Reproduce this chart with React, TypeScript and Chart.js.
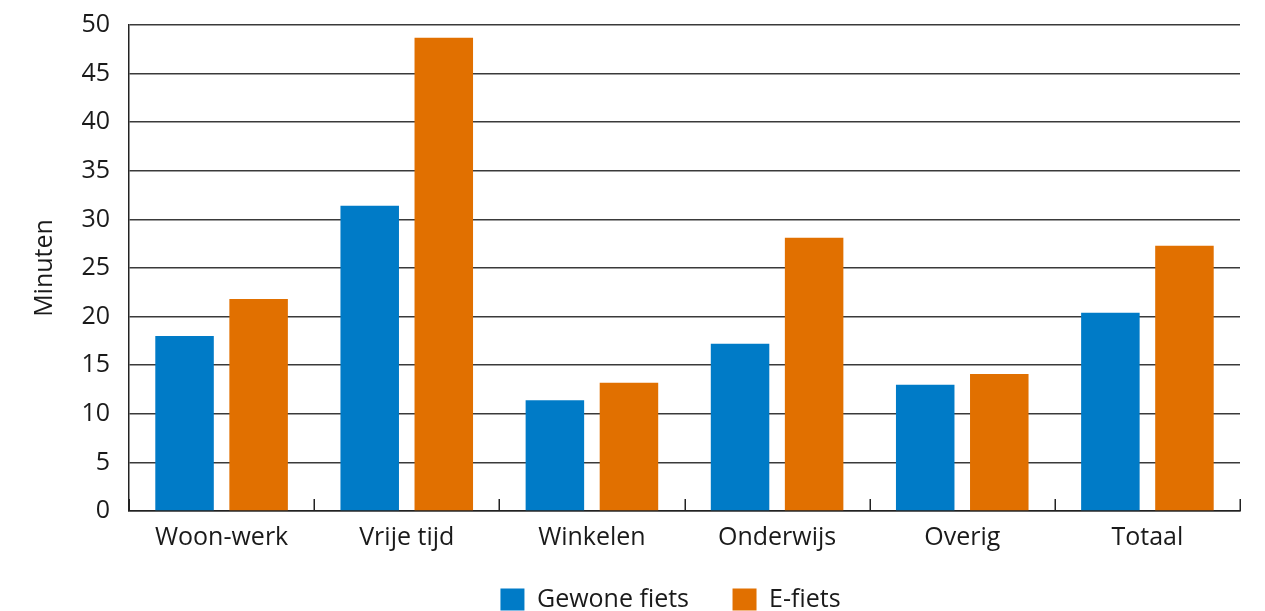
import React, { useEffect, useRef } from "react";
import { Chart, registerables } from "chart.js";

Chart.register(...registerables);

const categories = ["Woon-werk", "Vrije tijd", "Winkelen", "Onderwijs", "Overig", "Totaal"];
const seriesNames = ["Gewone fiets", "E-fiets"];
const gewoneFiets = [18.0, 31.4, 11.4, 17.2, 13.0, 20.4];
const eFiets = [21.8, 48.7, 13.2, 28.1, 14.1, 27.3];
const axisTitle = "Minuten";

const BLUE = "#007BC7";
const ORANGE = "#E17000";
const FONT = "'Open Sans', sans-serif";

// Short upward tick marks on the category axis, at each category boundary.
const categoryBoundaryTicks = {
  id: "categoryBoundaryTicks",
  afterDraw(chart: any) {
    const x = chart.scales.x;
    const { ctx, chartArea } = chart;
    const n = x.ticks.length;
    const step = (x.right - x.left) / n;
    ctx.save();
    ctx.strokeStyle = "#222";
    ctx.lineWidth = 1.5;
    for (let i = 0; i <= n; i++) {
      const px = Math.round(x.left + i * step) + 0.25;
      ctx.beginPath();
      ctx.moveTo(px, chartArea.bottom);
      ctx.lineTo(px, chartArea.bottom - 12);
      ctx.stroke();
    }
    ctx.restore();
  },
};

// Let category label descenders overhang the axis band, and nudge the legend row left.
const layoutTweaks = {
  id: "layoutTweaks",
  afterLayout(chart: any) {
    const x = chart.scales.x;
    x.bottom = x.top + 48;
    const legend = chart.legend;
    if (legend) {
      legend.left -= 14;
      legend.right -= 14;
    }
  },
};

export default function App() {
  const canvasRef = useRef<HTMLCanvasElement | null>(null);

  useEffect(() => {
    if (!canvasRef.current) return;
    const chart = new Chart(canvasRef.current, {
      type: "bar",
      data: {
        labels: categories,
        datasets: [
          {
            label: seriesNames[0],
            data: gewoneFiets,
            backgroundColor: BLUE,
            categoryPercentage: 0.8,
            barPercentage: 0.79,
          },
          {
            label: seriesNames[1],
            data: eFiets,
            backgroundColor: ORANGE,
            categoryPercentage: 0.8,
            barPercentage: 0.79,
          },
        ],
      },
      plugins: [categoryBoundaryTicks, layoutTweaks],
      options: {
        animation: false,
        responsive: false,
        maintainAspectRatio: false,
        layout: { padding: { top: 25, right: 25, left: 0, bottom: 0 } },
        plugins: {
          tooltip: { enabled: false },
          legend: {
            position: "bottom",
            fullSize: false,
            labels: {
              boxWidth: 24,
              boxHeight: 22,
              padding: 43.5,
              color: "#1a1a1a",
              font: { family: FONT, size: 25 },
            },
          },
        },
        scales: {
          x: {
            grid: { display: false, drawTicks: false },
            border: { display: true, color: "#222", width: 1.5 },
            ticks: {
              color: "#1a1a1a",
              font: { family: FONT, size: 25 },
              padding: 12,
              maxRotation: 0,
            },
            afterFit: (scale: any) => {
              scale.height = 32.5;
            },
          },
          y: {
            min: 0,
            max: 50,
            ticks: {
              stepSize: 5,
              color: "#1a1a1a",
              font: { family: FONT, size: 25 },
              padding: 19,
            },
            grid: { color: "#3a3a3a", lineWidth: 1.5, drawTicks: false },
            border: { display: true, color: "#222", width: 1.5 },
            title: {
              display: true,
              text: axisTitle,
              color: "#1a1a1a",
              font: { family: FONT, size: 25 },
              padding: { top: 30, bottom: 0 },
            },
            afterFit: (scale: any) => {
              scale.width = 129;
              scale.paddingTop = 0;
              scale.paddingBottom = 0;
            },
          },
        },
      },
    });
    return () => chart.destroy();
  }, []);

  return (
    <div style={{ width: 1265, height: 611, overflow: "hidden", position: "relative" }}>
      <style>{"body{margin:0}"}</style>
      <canvas ref={canvasRef} width={1265} height={622} style={{ display: "block" }} />
    </div>
  );
}
